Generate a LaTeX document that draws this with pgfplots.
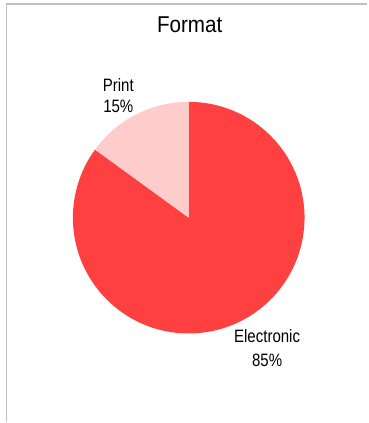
\documentclass[border=0pt]{standalone}
\usepackage{fontspec}
\setmainfont{Liberation Sans}
\newfontfamily\titlefont{Liberation Sans}[FakeStretch=0.9]
\newfontfamily\labelfont{Liberation Sans}[FakeStretch=0.84]
\usepackage{pgfplots}
\usepackage{pgfplotstable}
\pgfplotsset{compat=1.18}
\definecolor{elec}{RGB}{255,64,64}
\definecolor{prnt}{RGB}{255,204,204}
\definecolor{frame}{RGB}{192,192,192}
\pgfplotstableread{
label value
Electronic 85
Print 15
}\formattable
\begin{document}
\begin{tikzpicture}
\pgfplotstablegetelem{0}{value}\of\formattable
\pgfmathsetmacro{\vE}{\pgfplotsretval}
\pgfplotstablegetelem{1}{value}\of\formattable
\pgfmathsetmacro{\vP}{\pgfplotsretval}
\pgfmathsetmacro{\tot}{\vE+\vP}
\pgfmathsetmacro{\aE}{\vE/\tot*360}
\pgfmathsetmacro{\aP}{\vP/\tot*360}
\begin{axis}[
  x=1bp, y=1bp,
  xmin=-189, xmax=179,
  ymin=-205, ymax=218,
  hide axis,
  clip=false,
  disabledatascaling,
]
\path (axis cs:-189,-205) rectangle (axis cs:179,218);
% frame (top and left)
\draw[frame, line width=1.3bp] (axis cs:-182.5,-205) -- (axis cs:-182.5,214) -- (axis cs:179,214);
% slices
\fill[elec] (axis cs:0,0) -- (axis cs:0,116) arc[start angle=90, end angle={90-\aE}, radius=116bp] -- cycle;
\fill[prnt] (axis cs:0,0) -- (axis cs:0,116) arc[start angle=90, end angle={90+\aP}, radius=116bp] -- cycle;
% title
\node[anchor=base, font=\titlefont\fontsize{23}{27}\selectfont] at (axis cs:1,185) {Format};
% labels
\node[anchor=base, font=\labelfont\fontsize{18}{21}\selectfont] at (axis cs:-70.5,126) {Print};
\node[anchor=base, font=\labelfont\fontsize{18}{21}\selectfont] at (axis cs:-70.5,105) {15\%};
\node[anchor=base, font=\labelfont\fontsize{18}{21}\selectfont] at (axis cs:78.5,-125) {Electronic};
\node[anchor=base, font=\labelfont\fontsize{18}{21}\selectfont] at (axis cs:78.5,-149) {85\%};
\end{axis}
\end{tikzpicture}
\end{document}
